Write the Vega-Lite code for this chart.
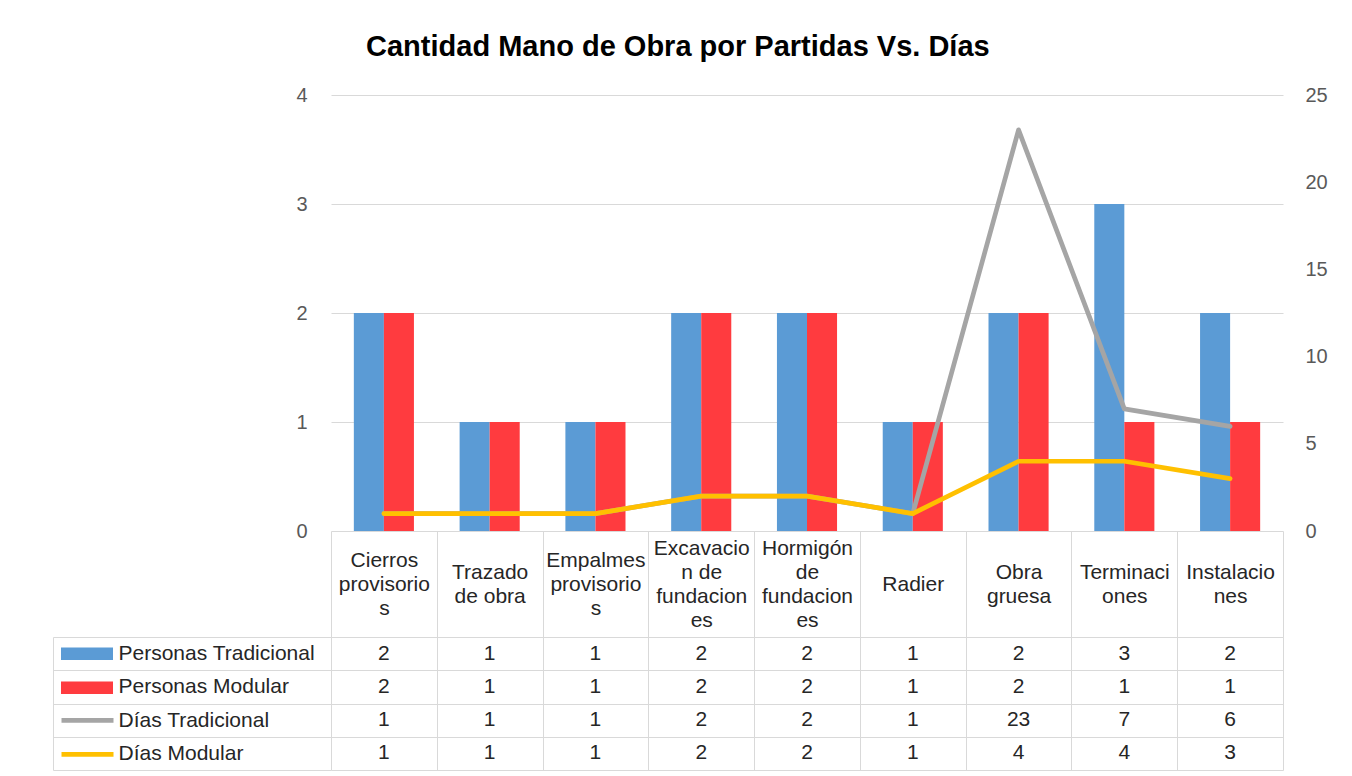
{
  "$schema": "https://vega.github.io/schema/vega-lite/v6.json",
  "padding": {"left": 52, "top": 33, "right": 5, "bottom": 5},
  "title": {"text": "Cantidad Mano de Obra por Partidas Vs. Días", "fontSize": 29, "font": "Liberation Sans", "fontWeight": "bold", "color": "#000000", "anchor": "middle", "offset": 23, "dx": -12},
  "datasets": {
    "tabla": [
      {"partida": "Cierros\nprovisorio\ns", "serie": "Personas Tradicional", "valor": 2},
      {"partida": "Trazado\nde obra", "serie": "Personas Tradicional", "valor": 1},
      {"partida": "Empalmes\nprovisorio\ns", "serie": "Personas Tradicional", "valor": 1},
      {"partida": "Excavacio\nn de\nfundacion\nes", "serie": "Personas Tradicional", "valor": 2},
      {"partida": "Hormigón\nde\nfundacion\nes", "serie": "Personas Tradicional", "valor": 2},
      {"partida": "Radier", "serie": "Personas Tradicional", "valor": 1},
      {"partida": "Obra\ngruesa", "serie": "Personas Tradicional", "valor": 2},
      {"partida": "Terminaci\nones", "serie": "Personas Tradicional", "valor": 3},
      {"partida": "Instalacio\nnes", "serie": "Personas Tradicional", "valor": 2},
      {"partida": "Cierros\nprovisorio\ns", "serie": "Personas Modular", "valor": 2},
      {"partida": "Trazado\nde obra", "serie": "Personas Modular", "valor": 1},
      {"partida": "Empalmes\nprovisorio\ns", "serie": "Personas Modular", "valor": 1},
      {"partida": "Excavacio\nn de\nfundacion\nes", "serie": "Personas Modular", "valor": 2},
      {"partida": "Hormigón\nde\nfundacion\nes", "serie": "Personas Modular", "valor": 2},
      {"partida": "Radier", "serie": "Personas Modular", "valor": 1},
      {"partida": "Obra\ngruesa", "serie": "Personas Modular", "valor": 2},
      {"partida": "Terminaci\nones", "serie": "Personas Modular", "valor": 1},
      {"partida": "Instalacio\nnes", "serie": "Personas Modular", "valor": 1},
      {"partida": "Cierros\nprovisorio\ns", "serie": "Días Tradicional", "valor": 1},
      {"partida": "Trazado\nde obra", "serie": "Días Tradicional", "valor": 1},
      {"partida": "Empalmes\nprovisorio\ns", "serie": "Días Tradicional", "valor": 1},
      {"partida": "Excavacio\nn de\nfundacion\nes", "serie": "Días Tradicional", "valor": 2},
      {"partida": "Hormigón\nde\nfundacion\nes", "serie": "Días Tradicional", "valor": 2},
      {"partida": "Radier", "serie": "Días Tradicional", "valor": 1},
      {"partida": "Obra\ngruesa", "serie": "Días Tradicional", "valor": 23},
      {"partida": "Terminaci\nones", "serie": "Días Tradicional", "valor": 7},
      {"partida": "Instalacio\nnes", "serie": "Días Tradicional", "valor": 6},
      {"partida": "Cierros\nprovisorio\ns", "serie": "Días Modular", "valor": 1},
      {"partida": "Trazado\nde obra", "serie": "Días Modular", "valor": 1},
      {"partida": "Empalmes\nprovisorio\ns", "serie": "Días Modular", "valor": 1},
      {"partida": "Excavacio\nn de\nfundacion\nes", "serie": "Días Modular", "valor": 2},
      {"partida": "Hormigón\nde\nfundacion\nes", "serie": "Días Modular", "valor": 2},
      {"partida": "Radier", "serie": "Días Modular", "valor": 1},
      {"partida": "Obra\ngruesa", "serie": "Días Modular", "valor": 4},
      {"partida": "Terminaci\nones", "serie": "Días Modular", "valor": 4},
      {"partida": "Instalacio\nnes", "serie": "Días Modular", "valor": 3}
    ]
  },
  "data": {"name": "tabla"},
  "bounds": "flush",
  "spacing": 106,
  "vconcat": [
    {
      "width": 952,
      "height": 436,
      "layer": [
        {
          "transform": [{"filter": "datum.serie === 'Personas Tradicional' || datum.serie === 'Personas Modular'"}],
          "mark": {"type": "bar"},
          "encoding": {
            "x": {"field": "partida", "type": "nominal", "sort": null, "scale": {"paddingInner": 0, "paddingOuter": 0}, "axis": null},
            "xOffset": {"field": "serie", "type": "nominal", "sort": ["Personas Tradicional", "Personas Modular"], "scale": {"domain": ["Personas Tradicional", "Personas Modular"], "paddingInner": 0, "paddingOuter": 0.76}},
            "y": {"field": "valor", "type": "quantitative", "scale": {"domain": [0, 4]}, "axis": {"orient": "left", "values": [0, 1, 2, 3, 4], "title": null, "grid": true, "gridColor": "#D9D9D9", "gridWidth": 1, "ticks": false, "domain": false, "labelPadding": 24, "labelFontSize": 20, "labelColor": "#595959"}},
            "fill": {
              "field": "serie", "type": "nominal",
              "scale": {"domain": ["Personas Tradicional", "Personas Modular"], "range": ["#5B9BD5", "#FF3B3F"]},
              "legend": {"orient": "none", "legendX": -270, "legendY": 542, "title": null, "symbolType": "M-1,-0.24H1V0.24H-1Z", "symbolSize": 2704, "symbolStrokeWidth": 0, "clipHeight": 33.33, "rowPadding": 0, "padding": 0, "labelExpr": "''", "labelFontSize": 1}
            }
          }
        },
        {
          "layer": [
            {
              "transform": [{"filter": "datum.serie === 'Días Tradicional'"}],
              "mark": {"type": "line", "strokeWidth": 4.7, "strokeCap": "round", "strokeJoin": "round"},
              "encoding": {
                "x": {"field": "partida", "type": "nominal", "sort": null, "axis": null},
                "y": {"field": "valor", "type": "quantitative", "scale": {"domain": [0, 25]}, "axis": {"orient": "right", "values": [0, 5, 10, 15, 20, 25], "title": null, "grid": false, "ticks": false, "domain": false, "labelPadding": 22, "labelFontSize": 20, "labelColor": "#595959"}},
                "stroke": {"field": "serie", "type": "nominal",
                  "scale": {"domain": ["Días Tradicional", "Días Modular"], "range": ["#A5A5A5", "#FFC000"]},
                  "legend": {"orient": "none", "legendX": -272, "legendY": 608.67, "title": null, "symbolType": "stroke", "symbolSize": 2704, "symbolStrokeWidth": 4.7, "clipHeight": 33.33, "rowPadding": 0, "padding": 0, "labelExpr": "''", "labelFontSize": 1}}
              }
            },
            {
              "transform": [{"filter": "datum.serie === 'Días Modular'"}],
              "mark": {"type": "line", "strokeWidth": 4.7, "strokeCap": "round", "strokeJoin": "round"},
              "encoding": {
                "x": {"field": "partida", "type": "nominal", "sort": null, "axis": null},
                "y": {"field": "valor", "type": "quantitative", "scale": {"domain": [0, 25]}},
                "stroke": {"field": "serie", "type": "nominal"}
              }
            }
          ]
        }
      ],
      "resolve": {"scale": {"y": "independent"}}
    },
    {
      "width": 952,
      "height": 133,
      "layer": [
        {
          "mark": {"type": "text", "fontSize": 21, "color": "#262626", "baseline": "middle", "align": "center"},
          "encoding": {
            "x": {"field": "partida", "type": "nominal", "sort": null, "scale": {"paddingInner": 0, "paddingOuter": 0},
              "axis": {"orient": "top", "title": null,
                "labelExpr": "isString(datum.value) ? (indexof(datum.value, '\\n') < 0 ? ['', datum.value] : split(datum.value, '\\n')) : ''",
                "labelAngle": 0,
                "labelBaseline": {"condition": [
                  {"test": "isString(datum.value) && length(split(datum.value, '\\n')) >= 4", "value": "line-bottom"},
                  {"test": "isString(datum.value) && length(split(datum.value, '\\n')) === 2", "value": "line-top"}
                ], "value": "middle"},
                "labelPadding": -29, "labelFontSize": 21, "labelColor": "#262626", "labelLineHeight": 24, "tickBand": "extent", "tickSize": 106, "tickColor": "#D9D9D9", "domainColor": "#D9D9D9", "grid": true, "gridColor": "#D9D9D9", "labelOverlap": false, "labelBound": false, "labelLimit": 200}},
            "y": {"field": "serie", "type": "nominal", "sort": ["Personas Tradicional", "Personas Modular", "Días Tradicional", "Días Modular"], "scale": {"paddingInner": 0, "paddingOuter": 0},
              "axis": {"orient": "left", "title": null, "tickBand": "extent", "tickSize": 278, "tickColor": "#D9D9D9", "domain": false, "grid": true, "gridColor": "#D9D9D9", "labelAlign": "left", "labelBaseline": "middle", "labelPadding": -65, "labelFontSize": 21, "labelColor": "#262626", "labelLimit": 300}},
            "text": {"field": "valor", "type": "quantitative", "format": "d"}
          }
        },
        {
          "mark": {"type": "rect", "opacity": 0},
          "encoding": {
            "x": {"field": "partida", "type": "nominal", "sort": null},
            "y": {"field": "serie", "type": "nominal", "sort": ["Personas Tradicional", "Personas Modular", "Días Tradicional", "Días Modular"],
              "axis": {"orient": "left", "title": null, "offset": 278, "domain": true, "domainColor": "#D9D9D9", "labels": false, "ticks": false, "grid": false}}
          }
        }
      ],
      "resolve": {"axis": {"y": "independent"}}
    }
  ],
  "config": {
    "font": "Liberation Sans",
    "view": {"stroke": null},
    "axis": {"labelFont": "Liberation Sans"}
  }
}
